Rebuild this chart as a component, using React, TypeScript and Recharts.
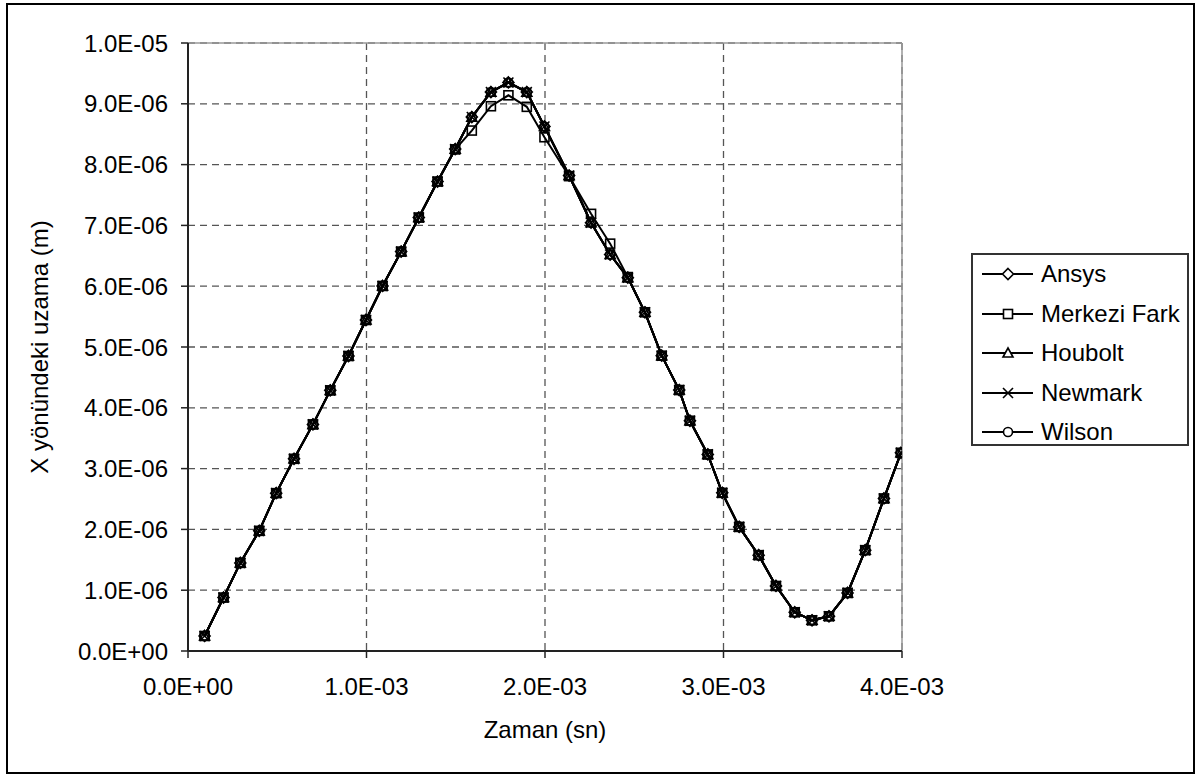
import React from "react";
import { LineChart, Line, XAxis, YAxis, CartesianGrid, ReferenceLine } from "recharts";

// zaman, E-03 sn
const zaman = [
  0.093, 0.199, 0.293, 0.399, 0.494, 0.594, 0.7, 0.797, 0.899, 0.997,
  1.09, 1.194, 1.293, 1.398, 1.497, 1.59, 1.697, 1.795, 1.898, 1.997,
  2.135, 2.258, 2.365, 2.464, 2.56, 2.654, 2.752, 2.812, 2.912, 2.993,
  3.088, 3.197, 3.294, 3.399, 3.496, 3.591, 3.695, 3.794, 3.899, 3.994,
];

// X yönündeki uzama, E-06 m
const ansys = [
  0.247, 0.879, 1.449, 1.976, 2.596, 3.161, 3.727, 4.287, 4.852, 5.444,
  6.004, 6.569, 7.129, 7.721, 8.255, 8.782, 9.193, 9.351, 9.193, 8.627,
  7.82, 7.045, 6.521, 6.141, 5.571, 4.857, 4.292, 3.787, 3.233, 2.601,
  2.041, 1.576, 1.07, 0.637, 0.505, 0.571, 0.955, 1.658, 2.509, 3.26,
];
const merkeziFark = [
  0.247, 0.879, 1.449, 1.976, 2.596, 3.161, 3.727, 4.287, 4.852, 5.444,
  6.004, 6.569, 7.129, 7.721, 8.25, 8.56, 8.96, 9.14, 8.95, 8.45,
  7.81, 7.19, 6.7, 6.15, 5.571, 4.857, 4.292, 3.787, 3.233, 2.601,
  2.041, 1.576, 1.07, 0.637, 0.505, 0.571, 0.955, 1.658, 2.509, 3.26,
];
const houbolt = [
  0.247, 0.879, 1.449, 1.976, 2.596, 3.161, 3.727, 4.287, 4.852, 5.444,
  6.004, 6.569, 7.129, 7.721, 8.255, 8.78, 9.19, 9.35, 9.19, 8.627,
  7.82, 7.045, 6.521, 6.141, 5.571, 4.857, 4.292, 3.787, 3.233, 2.601,
  2.041, 1.576, 1.07, 0.637, 0.505, 0.571, 0.955, 1.658, 2.509, 3.26,
];
const newmark = ansys;
const wilson = ansys;

const xTicks = [0, 1, 2, 3, 4];
const yTicks = [0, 1, 2, 3, 4, 5, 6, 7, 8, 9, 10];

const toRows = (ys: number[]) => zaman.map((x, i) => ({ x, y: ys[i] }));

// Excel "0.0E+00" style
function sci(v: number) {
  if (v === 0) return "0.0E+00";
  const e = Math.floor(Math.log10(Math.abs(v)) + 1e-9);
  const m = v / Math.pow(10, e);
  const sign = e < 0 ? "-" : "+";
  return `${m.toFixed(1)}E${sign}${String(Math.abs(e)).padStart(2, "0")}`;
}

type Kind = "diamond" | "square" | "triangle" | "x" | "circle";

function Marker({ kind, cx, cy, fill = "none" }: { kind: Kind; cx: number; cy: number; fill?: string }) {
  const s = { stroke: "#000", strokeWidth: 1.6, fill };
  if (kind === "diamond") return <polygon points={`${cx},${cy - 5.5} ${cx + 5.5},${cy} ${cx},${cy + 5.5} ${cx - 5.5},${cy}`} {...s} />;
  if (kind === "square") return <rect x={cx - 4.5} y={cy - 4.5} width={9} height={9} {...s} />;
  if (kind === "triangle") return <polygon points={`${cx},${cy - 5} ${cx + 5},${cy + 4} ${cx - 5},${cy + 4}`} {...s} />;
  if (kind === "x")
    return (
      <g stroke="#000" strokeWidth={1.6}>
        <line x1={cx - 5} y1={cy - 5} x2={cx + 5} y2={cy + 5} />
        <line x1={cx - 5} y1={cy + 5} x2={cx + 5} y2={cy - 5} />
      </g>
    );
  return <circle cx={cx} cy={cy} r={4.5} {...s} />;
}

const series: { name: string; data: number[]; kind: Kind }[] = [
  { name: "Ansys", data: ansys, kind: "diamond" },
  { name: "Merkezi Fark", data: merkeziFark, kind: "square" },
  { name: "Houbolt", data: houbolt, kind: "triangle" },
  { name: "Newmark", data: newmark, kind: "x" },
  { name: "Wilson", data: wilson, kind: "circle" },
];

const font = "'Liberation Sans', Arial, sans-serif";
const tickStyle = { fontSize: 24, fontFamily: font, fill: "#000" };

export default function App() {
  return (
    <div style={{ position: "absolute", left: 0, top: 0, width: 1201, height: 774, background: "#fff", fontFamily: font }}>
      <div style={{ position: "absolute", left: 6, top: 3, width: 1189, height: 771, border: "2px solid #000", boxSizing: "border-box" }} />
      <LineChart width={1201} height={774} margin={{ top: 43, right: 299, bottom: 0, left: 0 }}>
        <CartesianGrid stroke="#555" strokeDasharray="7 5" strokeWidth={1.3} />
        <ReferenceLine y={10} stroke="#999" strokeWidth={1.5} />
        <ReferenceLine x={4} stroke="#999" strokeWidth={1.5} />
        <XAxis
          type="number"
          dataKey="x"
          domain={[0, 4]}
          ticks={xTicks}
          allowDataOverflow
          height={123}
          tick={tickStyle}
          tickFormatter={(v: number) => sci(v * 1e-3)}
          tickSize={7}
          tickMargin={20}
          axisLine={{ stroke: "#222", strokeWidth: 2 }}
          tickLine={{ stroke: "#222", strokeWidth: 1.5 }}
        />
        <YAxis
          type="number"
          domain={[0, 10]}
          ticks={yTicks}
          allowDataOverflow
          width={188}
          tick={tickStyle}
          tickFormatter={(v: number) => sci(v * 1e-6)}
          tickSize={7}
          tickMargin={13}
          axisLine={{ stroke: "#222", strokeWidth: 2 }}
          tickLine={{ stroke: "#222", strokeWidth: 1.5 }}
        />
        {series.map((s) => (
          <Line
            key={s.name}
            data={toRows(s.data)}
            dataKey="y"
            name={s.name}
            type="linear"
            stroke="#000"
            strokeWidth={2}
            isAnimationActive={false}
            dot={(p: any) => <Marker key={p.index} kind={s.kind} cx={p.cx} cy={p.cy} />}
            activeDot={false}
          />
        ))}
      </LineChart>

      <div style={{ position: "absolute", left: 0, width: 1090, top: 716, textAlign: "center", fontSize: 24, color: "#000" }}>
        Zaman (sn)
      </div>
      <div
        style={{
          position: "absolute",
          left: 40,
          top: 347,
          transform: "translate(-50%, -50%) rotate(-90deg)",
          whiteSpace: "nowrap",
          fontSize: 24,
          color: "#000",
        }}
      >
        X yönündeki uzama (m)
      </div>

      <div
        style={{
          position: "absolute",
          left: 971,
          top: 253,
          width: 218,
          height: 193,
          border: "2px solid #333",
          boxSizing: "border-box",
        }}
      >
        {series.map((s, i) => (
          <div key={s.name} style={{ position: "absolute", left: 8, top: 4 + i * 39.6, height: 30, display: "flex", alignItems: "center" }}>
            <svg width={54} height={30}>
              <line x1={1} y1={15} x2={52} y2={15} stroke="#000" strokeWidth={2} />
              <Marker kind={s.kind} cx={27} cy={15} fill="#fff" />
            </svg>
            <span style={{ fontSize: 24, marginLeft: 6, color: "#000" }}>{s.name}</span>
          </div>
        ))}
      </div>
    </div>
  );
}
